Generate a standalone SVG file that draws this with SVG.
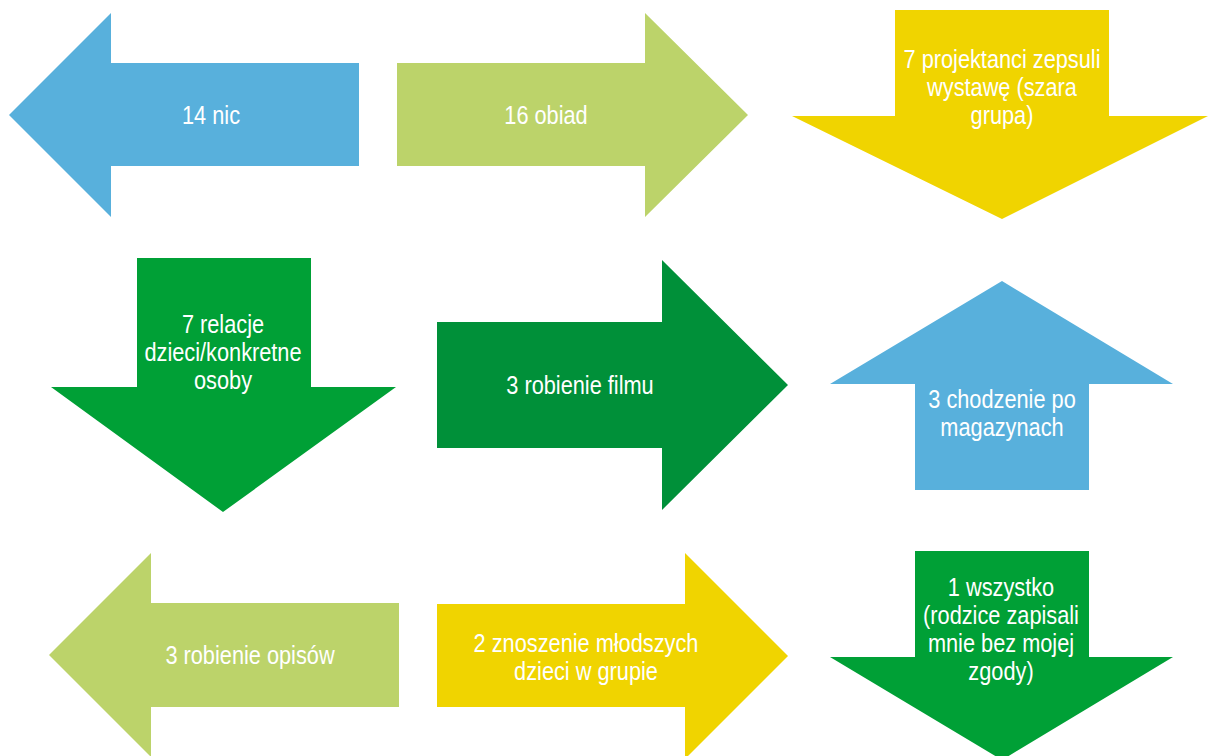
<svg xmlns="http://www.w3.org/2000/svg" width="1208" height="756" viewBox="0 0 1208 756">
<style>
.t{font-family:"Liberation Sans",Arial,sans-serif;font-size:25px;fill:#ffffff;text-anchor:middle}
.blue{fill:#58B0DC}.lgreen{fill:#BCD36A}.yellow{fill:#F0D400}.green{fill:#00A036}.dgreen{fill:#009039}
</style>
<rect width="1208" height="756" fill="#ffffff"/>
<g id="n1">
<polygon class="blue" points="9,115 111,13 111,63 359,63 359,166 111,166 111,217"/>
<text class="t" transform="translate(211,124) scale(0.87,1)">14 nic</text>
</g>
<g id="n2">
<polygon class="lgreen" points="397,63 645,63 645,13 748,115 645,217 645,166 397,166"/>
<text class="t" transform="translate(546,124) scale(0.87,1)">16 obiad</text>
</g>
<g id="n3">
<polygon class="yellow" points="895,10 1109,10 1109,116 1208,116 1002,219 792,116 895,116"/>
<text class="t" transform="translate(1002,68) scale(0.87,1)">7 projektanci zepsuli</text>
<text class="t" transform="translate(1002,96) scale(0.87,1)">wystawę (szara</text>
<text class="t" transform="translate(1002,124) scale(0.87,1)">grupa)</text>
</g>
<g id="n4">
<polygon class="green" points="137,258 311,258 311,387 396,387 223,512 51,387 137,387"/>
<text class="t" transform="translate(223,333) scale(0.87,1)">7 relacje</text>
<text class="t" transform="translate(223,361) scale(0.87,1)">dzieci/konkretne</text>
<text class="t" transform="translate(223,389) scale(0.87,1)">osoby</text>
</g>
<g id="n5">
<polygon class="dgreen" points="437,322 662,322 662,260 788,385 662,510 662,448 437,448"/>
<text class="t" transform="translate(580,394) scale(0.87,1)">3 robienie filmu</text>
</g>
<g id="n6">
<polygon class="blue" points="1002,281 1173,384 1089,384 1089,490 915,490 915,384 830,384"/>
<text class="t" transform="translate(1002,408) scale(0.87,1)">3 chodzenie po</text>
<text class="t" transform="translate(1002,436) scale(0.87,1)">magazynach</text>
</g>
<g id="n7">
<polygon class="lgreen" points="49,655 151,553 151,603 399,603 399,707 151,707 151,757"/>
<text class="t" transform="translate(250,664) scale(0.87,1)">3 robienie opisów</text>
</g>
<g id="n8">
<polygon class="yellow" points="437,604 685,604 685,553 788,656 685,759 685,707 437,707"/>
<text class="t" transform="translate(586,652) scale(0.87,1)">2 znoszenie młodszych</text>
<text class="t" transform="translate(586,680) scale(0.87,1)">dzieci w grupie</text>
</g>
<g id="n9">
<polygon class="green" points="915,551 1089,551 1089,657 1173,657 1002,760 830,657 915,657"/>
<text class="t" transform="translate(1001,596) scale(0.87,1)">1 wszystko</text>
<text class="t" transform="translate(1001,624) scale(0.87,1)">(rodzice zapisali</text>
<text class="t" transform="translate(1001,652) scale(0.87,1)">mnie bez mojej</text>
<text class="t" transform="translate(1001,680) scale(0.87,1)">zgody)</text>
</g>
<g id="connectors"/>
</svg>
